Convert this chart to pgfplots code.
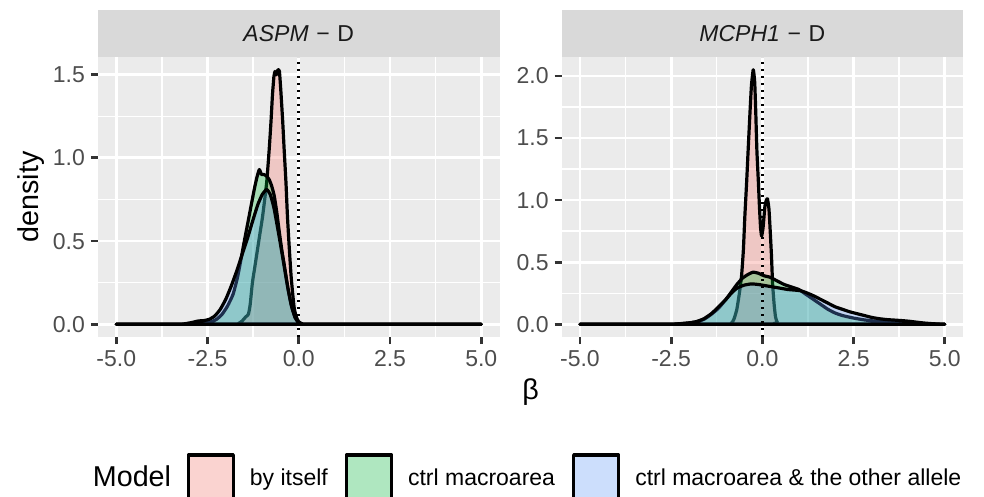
\documentclass[border=0pt]{standalone}
\usepackage{fontspec}
\setmainfont{Liberation Sans}
\usepackage{pgfplots}
\pgfplotsset{compat=1.18}

\definecolor{panelbg}{HTML}{EBEBEB}
\definecolor{stripbg}{HTML}{D9D9D9}
\definecolor{tickcol}{HTML}{333333}
\definecolor{ticklab}{HTML}{4D4D4D}
\definecolor{striptext}{HTML}{1A1A1A}
\definecolor{keybg}{HTML}{F2F2F2}
\definecolor{cRed}{HTML}{F8766D}
\definecolor{cGreen}{HTML}{00BA38}
\definecolor{cBlue}{HTML}{619CFF}

\newcommand\axisfont{\fontsize{23}{27}\selectfont}
\newcommand\titlefont{\fontsize{28.7}{33}\selectfont}

\pgfplotsset{
  facet/.style={
    scale only axis, width=401.5pt, height=280pt,
    xmin=-5.5, xmax=5.5,
    clip mode=individual,
    axis background/.style={fill=panelbg},
    axis line style={draw=none},
    xtick={-5,-2.5,0,2.5,5},
    xticklabels={-5.0,-2.5,0.0,2.5,5.0},
    minor xtick={-3.75,-1.25,1.25,3.75},
    grid=both,
    major grid style={white, line width=2.8pt},
    minor grid style={white, line width=1.4pt},
    tick align=outside,
    xtick pos=bottom, ytick pos=left,
    major tick length=7.2pt, minor tick length=0pt,
    major tick style={draw=tickcol, line width=2.8pt},
    tick label style={font=\axisfont, text=ticklab, inner sep=0pt},
    xticklabel shift=5.7pt, yticklabel shift=5.7pt,
    every axis title/.style={at={(0.5,1)}, anchor=south, fill=stripbg,
      minimum width=401.5pt, minimum height=47pt, inner sep=0pt, outer sep=0pt,
      text=striptext, font=\axisfont},
  },
  dens/.style={draw=black, line width=3.2pt, line join=round, fill opacity=0.3,
    smooth, tension=0.3},
  zeroline/.style={black, line width=3pt, dash pattern=on 2.4pt off 4.6pt},
}

\begin{document}
\begin{tikzpicture}
\path[use as bounding box] (0,0) rectangle (984pt,497pt);

% ---------------- ASPM ----------------
\begin{axis}[facet, at={(98pt,160pt)}, anchor=south west,
  ymin=-0.0765, ymax=1.6065,
  ytick={0,0.5,1,1.5}, yticklabels={0.0,0.5,1.0,1.5},
  minor ytick={0.25,0.75,1.25},
  title={\textit{ASPM}\,\,−\,\,D},
  ylabel={density},
  every axis y label/.style={at={(axis description cs:-0.1656,0.5)}, rotate=90,
    anchor=center, font=\titlefont},
  xlabel={β},
  every axis x label/.style={at={(axis description cs:1.0772,-0.1964)},
    anchor=center, font=\titlefont},
  area legend,
  legend image code/.code={
    \fill[keybg] (0pt,-22.5pt) rectangle (45pt,22.5pt);
    \draw[#1] (0pt,-22.5pt) rectangle (45pt,22.5pt);},
  legend columns=3,
  legend style={at={(axis description cs:0.2209,-0.5018)}, anchor=west,
    draw=none, fill=none, inner sep=0pt, outer sep=0pt, font=\axisfont,
    nodes={inner sep=0pt, text=black},
    /tikz/every odd column/.append style={column sep=15pt},
    /tikz/every even column/.append style={column sep=17pt}},
]
% by itself
\addplot[dens, fill=cRed] coordinates {
(-5,0) (-1.8,0) (-1.65,0.005) (-1.55,0.02) (-1.45,0.045) (-1.38,0.06) (-1.33,0.12)
(-1.27,0.25) (-1.2,0.35) (-1.13,0.45) (-1.06,0.55) (-0.99,0.65) (-0.88,0.85)
(-0.81,1.05) (-0.76,1.22) (-0.72,1.38) (-0.68,1.49) (-0.65,1.52) (-0.61,1.50)
(-0.57,1.53) (-0.53,1.52) (-0.49,1.40) (-0.44,1.22) (-0.40,1.05) (-0.35,0.85)
(-0.31,0.65) (-0.26,0.46) (-0.21,0.29) (-0.16,0.17) (-0.12,0.09) (-0.06,0.04)
(0,0.015) (0.1,0.002) (0.3,0) (5,0)} \closedcycle;
\addlegendentry{by itself}
% ctrl macroarea
\addplot[dens, fill=cGreen] coordinates {
(-5,0) (-3.2,0) (-3.0,0.003) (-2.85,0.008) (-2.7,0.012) (-2.55,0.01) (-2.4,0.015)
(-2.25,0.03) (-2.1,0.06) (-1.95,0.11) (-1.8,0.18) (-1.68,0.28) (-1.6,0.37)
(-1.5,0.49) (-1.43,0.57) (-1.36,0.65) (-1.29,0.73) (-1.22,0.81) (-1.15,0.88)
(-1.08,0.93) (-1.02,0.9) (-0.95,0.9) (-0.88,0.89) (-0.81,0.87) (-0.74,0.83)
(-0.67,0.77) (-0.6,0.67) (-0.53,0.55) (-0.46,0.44) (-0.4,0.36) (-0.3,0.22)
(-0.21,0.12) (-0.1,0.04) (0,0.01) (0.1,0.002) (0.2,0) (5,0)} \closedcycle;
\addlegendentry{ctrl macroarea}
% ctrl macroarea & the other allele
\addplot[dens, fill=cBlue] coordinates {
(-5,0) (-3.3,0) (-3.1,0.004) (-2.9,0.012) (-2.75,0.02) (-2.6,0.022) (-2.45,0.03)
(-2.3,0.05) (-2.15,0.09) (-2.0,0.15) (-1.85,0.23) (-1.7,0.32) (-1.55,0.42)
(-1.4,0.52) (-1.25,0.63) (-1.12,0.72) (-1.0,0.78) (-0.88,0.81) (-0.78,0.78)
(-0.68,0.7) (-0.58,0.58) (-0.5,0.48) (-0.4,0.35) (-0.3,0.22) (-0.2,0.11)
(-0.1,0.04) (0,0.01) (0.1,0.002) (0.2,0) (5,0)} \closedcycle;
\addlegendentry{ctrl macroarea \& the other allele}
\addplot[zeroline, forget plot, clip=true] coordinates {(0,-0.0765) (0,1.6065)};
\node[anchor=base west, font=\titlefont, inner sep=0pt]
  at (axis description cs:-0.0132,-0.5357) {Model};
\end{axis}

% ---------------- MCPH1 ----------------
\begin{axis}[facet, at={(561.7pt,160pt)}, anchor=south west, width=401.3pt,
  ymin=-0.1025, ymax=2.1525,
  ytick={0,0.5,1,1.5,2}, yticklabels={0.0,0.5,1.0,1.5,2.0},
  minor ytick={0.25,0.75,1.25,1.75},
  title={\textit{MCPH1}\,\,−\,\,D},
]
\addplot[dens, fill=cRed] coordinates {
(-5,0) (-1.0,0) (-0.86,0.005) (-0.78,0.04) (-0.7,0.12) (-0.63,0.25) (-0.57,0.39)
(-0.52,0.6) (-0.48,0.87) (-0.43,1.15) (-0.39,1.4) (-0.34,1.7) (-0.3,1.92)
(-0.25,2.05) (-0.21,1.95) (-0.18,1.7) (-0.15,1.4) (-0.11,1.15) (-0.08,0.95)
(-0.05,0.78) (-0.02,0.71) (0.02,0.78) (0.07,0.95) (0.11,1.0) (0.14,1.01)
(0.18,0.93) (0.21,0.78) (0.25,0.55) (0.28,0.33) (0.32,0.17) (0.36,0.06)
(0.41,0.015) (0.5,0) (5,0)} \closedcycle;
\addplot[dens, fill=cGreen] coordinates {
(-5,0) (-2.6,0) (-2.3,0.003) (-2.0,0.01) (-1.8,0.02) (-1.6,0.04) (-1.4,0.08)
(-1.2,0.13) (-1.0,0.2) (-0.85,0.26) (-0.7,0.32) (-0.55,0.37) (-0.4,0.4)
(-0.25,0.42) (-0.1,0.41) (0.05,0.39) (0.2,0.38) (0.4,0.35) (0.6,0.32) (0.8,0.3)
(1.0,0.28) (1.2,0.24) (1.4,0.2) (1.6,0.16) (1.8,0.12) (2.0,0.09) (2.2,0.07)
(2.5,0.05) (2.8,0.035) (3.1,0.025) (3.5,0.015) (4.0,0.008) (4.5,0.003) (5,0)} \closedcycle;
\addplot[dens, fill=cBlue] coordinates {
(-5,0) (-2.6,0) (-2.3,0.004) (-2.0,0.012) (-1.8,0.022) (-1.6,0.045) (-1.4,0.085)
(-1.2,0.14) (-1.0,0.2) (-0.85,0.25) (-0.7,0.29) (-0.5,0.315) (-0.3,0.325)
(-0.1,0.32) (0.1,0.31) (0.3,0.3) (0.5,0.29) (0.7,0.28) (0.9,0.275) (1.05,0.27)
(1.2,0.255) (1.4,0.23) (1.6,0.2) (1.8,0.17) (2.0,0.14) (2.2,0.12) (2.4,0.1)
(2.6,0.085) (2.8,0.07) (3.0,0.055) (3.2,0.045) (3.4,0.038) (3.6,0.034)
(3.8,0.03) (4.0,0.025) (4.2,0.018) (4.4,0.011) (4.6,0.006) (4.8,0.002) (5,0)} \closedcycle;
\addplot[zeroline] coordinates {(0,-0.1025) (0,2.1525)};
\end{axis}
\end{tikzpicture}
\end{document}
